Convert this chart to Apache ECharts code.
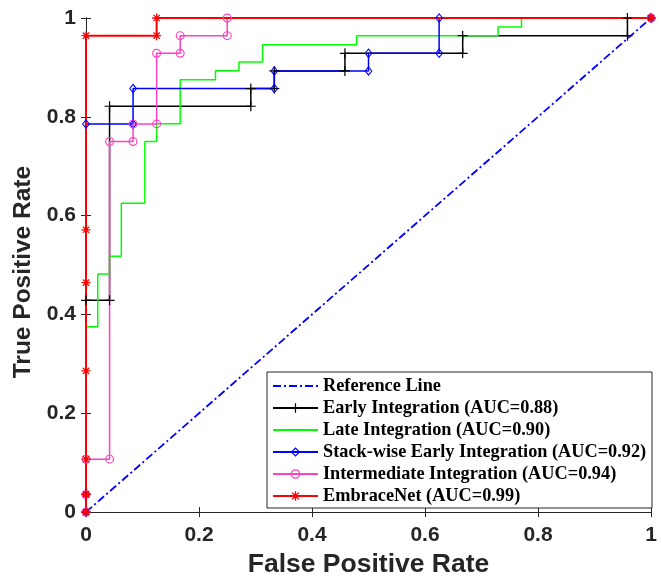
<!DOCTYPE html>
<html>
<head>
<meta charset="utf-8">
<script src="https://cdn.jsdelivr.net/npm/echarts@6/dist/echarts.min.js"></script>
<style>html,body{margin:0;padding:0;background:#fff}#c{width:661px;height:583px}</style>
</head>
<body>
<div id="c"></div>
<script>
// ---- data ----
const refFpr = [0, 1];
const refTpr = [0, 1];

const earlyFpr = [0, 0, 0, 0.0417, 0.0417, 0.2917, 0.2917, 0.3333, 0.3333, 0.4583, 0.4583, 0.6667, 0.6667, 0.9583, 0.9583, 1];
const earlyTpr = [0, 0.0357, 0.4286, 0.4286, 0.8214, 0.8214, 0.8571, 0.8571, 0.8929, 0.8929, 0.9286, 0.9286, 0.9643, 0.9643, 1, 1];

const lateFpr = [0, 0, 0.0208, 0.0208, 0.0417, 0.0417, 0.0625, 0.0625, 0.1042, 0.1042, 0.125, 0.125, 0.1667, 0.1667, 0.2292, 0.2292, 0.2708, 0.2708, 0.3125, 0.3125, 0.4792, 0.4792, 0.7292, 0.7292, 0.7708, 0.7708, 1];
const lateTpr = [0, 0.375, 0.375, 0.482, 0.482, 0.518, 0.518, 0.625, 0.625, 0.75, 0.75, 0.786, 0.786, 0.875, 0.875, 0.893, 0.893, 0.911, 0.911, 0.946, 0.946, 0.964, 0.964, 0.982, 0.982, 1, 1];

const stackFpr = [0, 0, 0, 0.0833, 0.0833, 0.3333, 0.3333, 0.5, 0.5, 0.625, 0.625, 1];
const stackTpr = [0, 0.0357, 0.7857, 0.7857, 0.8571, 0.8571, 0.8929, 0.8929, 0.9286, 0.9286, 1, 1];

const interFpr = [0, 0, 0, 0.0417, 0.0417, 0.0833, 0.0833, 0.125, 0.125, 0.1667, 0.1667, 0.25, 0.25, 1];
const interTpr = [0, 0.0357, 0.1071, 0.1071, 0.75, 0.75, 0.7857, 0.7857, 0.9286, 0.9286, 0.9643, 0.9643, 1, 1];

const embFpr = [0, 0, 0, 0, 0, 0, 0, 0.125, 0.125, 1];
const embTpr = [0, 0.0357, 0.1071, 0.2857, 0.4643, 0.5714, 0.9643, 0.9643, 1, 1];

const seriesNames = [
  'Reference Line',
  'Early Integration (AUC=0.88)',
  'Late Integration (AUC=0.90)',
  'Stack-wise Early Integration (AUC=0.92)',
  'Intermediate Integration (AUC=0.94)',
  'EmbraceNet (AUC=0.99)'
];

// ---- symbols ----
const PLUS = 'path://M4.4,0H5.6V4.4H10V5.6H5.6V10H4.4V5.6H0V4.4H4.4Z';
const STAR = 'path://M4.3,0H5.7V3.3L8,1L9,2L6.7,4.3H10V5.7H6.7L9,8L8,9L5.7,6.7V10H4.3V6.7L2,9L1,8L3.3,5.7H0V4.3H3.3L1,2L2,1L4.3,3.3Z';
const RING = 'path://M5,0A5,5,0,1,1,5,10A5,5,0,1,1,5,0ZM5,1.3A3.7,3.7,0,1,0,5,8.7A3.7,3.7,0,1,0,5,1.3Z';
const DIAM = 'path://M5,0L10,5L5,10L0,5ZM5,1.8L1.5,5L5,8.2L8.5,5Z';

function pts(xs, ys) { return xs.map((x, i) => [x, ys[i]]); }

const labelFont = {fontFamily: 'Liberation Sans', fontWeight: 'bold', fontSize: 21, color: '#262626'};
const axisCol = '#262626';

function mkSeries(name, xs, ys, color, width, symbol, size, dash) {
  return {
    name: name, type: 'line', data: pts(xs, ys),
    symbol: symbol, symbolSize: size, showAllSymbol: true,
    lineStyle: {color: color, width: width, type: dash || 'solid'},
    itemStyle: {color: color},
    emphasis: {disabled: true},
    animation: false
  };
}

const legendData = seriesNames.map((n, i) => (i === 0 || i === 2) ? {name: n, itemStyle: {opacity: 0}} : {name: n});

const chart = echarts.init(document.getElementById('c'), null, {renderer: 'canvas'});
chart.setOption({
  backgroundColor: '#fff',
  animation: false,
  grid: {left: 86, right: 10, top: 18, bottom: 64, containLabel: false},
  xAxis: [{
    type: 'value', min: 0, max: 1, interval: 0.2, position: 'bottom',
    name: 'False Positive Rate', nameLocation: 'middle', nameGap: 29,
    nameTextStyle: {fontFamily: 'Liberation Sans', fontWeight: 'bold', fontSize: 26.5, color: '#262626'},
    axisLine: {show: true, lineStyle: {color: axisCol, width: 1}},
    axisTick: {show: true, inside: true, length: 5, lineStyle: {color: axisCol}},
    axisLabel: Object.assign({margin: 13, formatter: v => String(+v.toFixed(1))}, labelFont),
    splitLine: {show: false}
  }, {
    type: 'value', min: 0, max: 1, interval: 0.2, position: 'top',
    axisLine: {show: true, lineStyle: {color: axisCol, width: 1}},
    axisTick: {show: true, inside: true, length: 5, lineStyle: {color: axisCol}},
    axisLabel: {show: false}, splitLine: {show: false}
  }],
  yAxis: [{
    type: 'value', min: 0, max: 1, interval: 0.2, position: 'left',
    name: 'True Positive Rate', nameLocation: 'middle', nameGap: 43,
    nameTextStyle: {fontFamily: 'Liberation Sans', fontWeight: 'bold', fontSize: 24.5, color: '#262626', padding: [0, 14, 0, 0]},
    axisLine: {show: true, lineStyle: {color: axisCol, width: 1}},
    axisTick: {show: true, inside: true, length: 5, lineStyle: {color: axisCol}},
    axisLabel: Object.assign({margin: 10, formatter: v => String(+v.toFixed(1))}, labelFont),
    splitLine: {show: false}
  }, {
    type: 'value', min: 0, max: 1, interval: 0.2, position: 'right',
    axisLine: {show: true, lineStyle: {color: axisCol, width: 1}},
    axisTick: {show: true, inside: true, length: 5, lineStyle: {color: axisCol}},
    axisLabel: {show: false}, splitLine: {show: false}
  }],
  legend: {
    orient: 'vertical', left: 267, top: 372,
    padding: [4, 5, 2, 5],
    itemWidth: 45, itemHeight: 12, itemGap: 2,
    backgroundColor: '#fff', borderColor: axisCol, borderWidth: 1,
    data: legendData,
    textStyle: {fontFamily: 'Liberation Serif', fontWeight: 'bold', fontSize: 18.3, color: '#000', lineHeight: 20, width: 324, overflow: 'none'},
    selectedMode: false
  },
  series: [
    mkSeries(seriesNames[0], refFpr, refTpr, '#0000ff', 1.8, 'none', 0, [8, 3, 2, 3]),
    mkSeries(seriesNames[1], earlyFpr, earlyTpr, '#000000', 1.5, PLUS, 10),
    mkSeries(seriesNames[2], lateFpr, lateTpr, '#00ff00', 1.5, 'none', 0),
    mkSeries(seriesNames[3], stackFpr, stackTpr, '#0000ff', 1.5, DIAM, [8, 10]),
    mkSeries(seriesNames[4], interFpr, interTpr, '#ff40c0', 1.5, RING, 9),
    mkSeries(seriesNames[5], embFpr, embTpr, '#ff0000', 2, STAR, 9)
  ]
});
</script>
</body>
</html>
